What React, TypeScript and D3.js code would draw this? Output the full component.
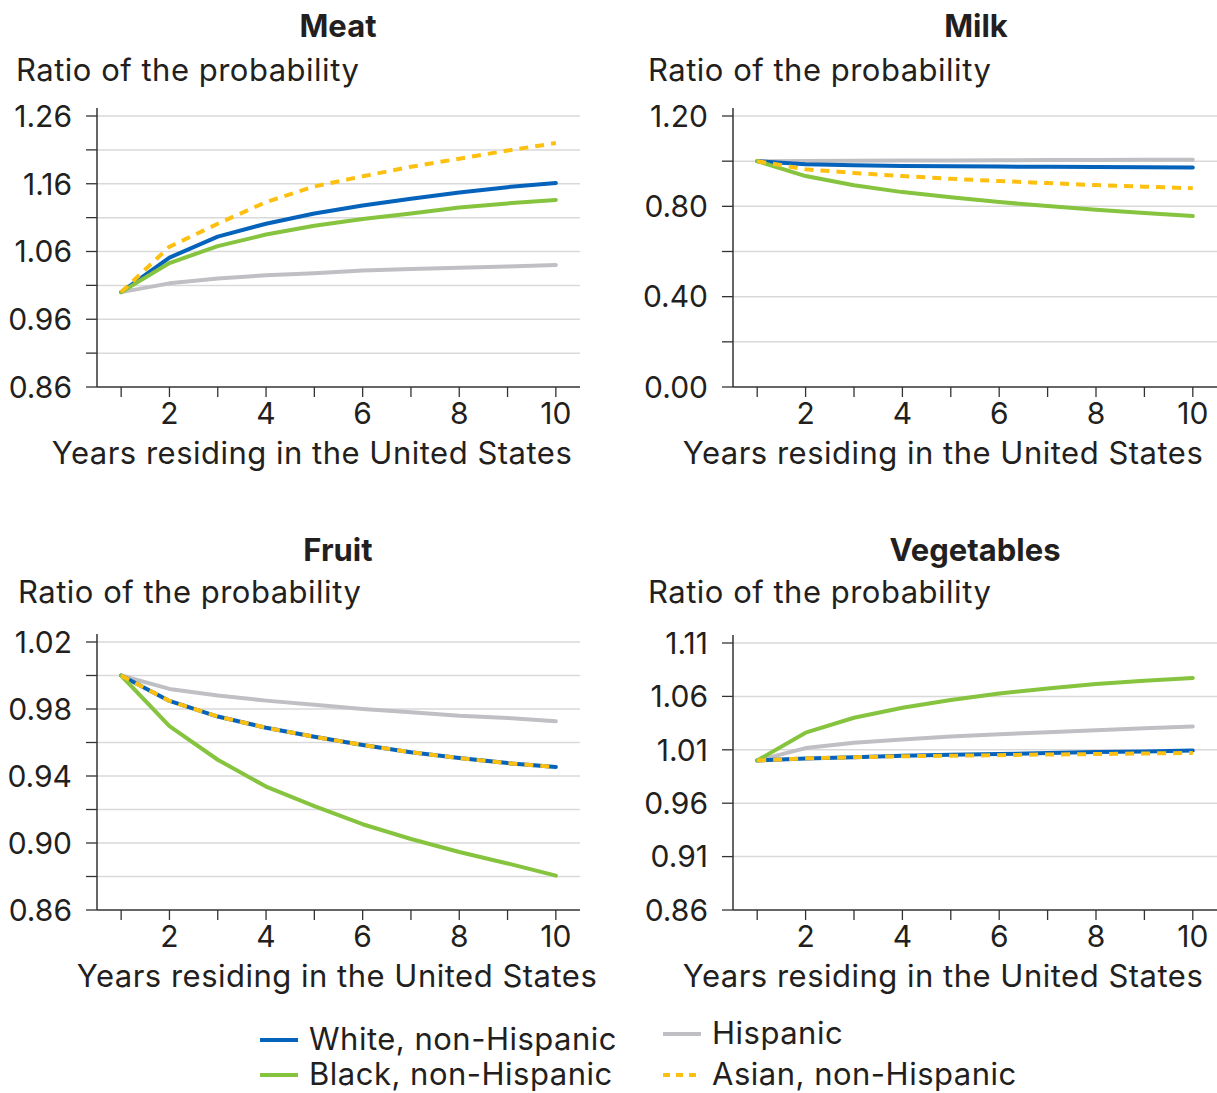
import React from "react";
import * as d3 from "d3";

const years = [1, 2, 3, 4, 5, 6, 7, 8, 9, 10];

const seriesNames = ["Hispanic", "White, non-Hispanic", "Black, non-Hispanic", "Asian, non-Hispanic"];

// Meat
const meatHispanic = [1.0, 1.013, 1.02, 1.025, 1.028, 1.032, 1.034, 1.036, 1.038, 1.04];
const meatWhite = [1.0, 1.051, 1.082, 1.101, 1.116, 1.128, 1.138, 1.147, 1.155, 1.161];
const meatBlack = [1.0, 1.043, 1.068, 1.085, 1.098, 1.108, 1.116, 1.125, 1.131, 1.136];
const meatAsian = [1.0, 1.067, 1.101, 1.133, 1.156, 1.171, 1.185, 1.197, 1.209, 1.22];

// Milk
const milkHispanic = [1.0, 1.001, 1.002, 1.003, 1.003, 1.004, 1.005, 1.005, 1.006, 1.006];
const milkWhite = [1.0, 0.986, 0.982, 0.979, 0.977, 0.976, 0.975, 0.974, 0.973, 0.972];
const milkBlack = [1.0, 0.934, 0.893, 0.863, 0.84, 0.819, 0.801, 0.785, 0.77, 0.757];
const milkAsian = [1.0, 0.964, 0.948, 0.934, 0.922, 0.912, 0.903, 0.894, 0.887, 0.88];

// Fruit
const fruitHispanic = [1.0, 0.992, 0.988, 0.985, 0.9825, 0.98, 0.978, 0.976, 0.9747, 0.9727];
const fruitWhite = [1.0, 0.9848, 0.9755, 0.9688, 0.9634, 0.9585, 0.9542, 0.9507, 0.9477, 0.9454];
const fruitBlack = [1.0, 0.9698, 0.9497, 0.9337, 0.922, 0.9112, 0.9024, 0.8946, 0.8878, 0.8805];
const fruitAsian = [1.0, 0.9848, 0.9755, 0.9688, 0.9634, 0.9585, 0.9542, 0.9507, 0.9477, 0.9454];

// Vegetables
const vegHispanic = [1.0, 1.0116, 1.0166, 1.0197, 1.0225, 1.0246, 1.0265, 1.0284, 1.0302, 1.0318];
const vegWhite = [1.0, 1.0019, 1.003, 1.0044, 1.0053, 1.006, 1.007, 1.008, 1.0085, 1.0093];
const vegBlack = [1.0, 1.026, 1.04, 1.0494, 1.0566, 1.0628, 1.0675, 1.0716, 1.0747, 1.0772];
const vegAsian = [1.0, 1.002, 1.003, 1.004, 1.0044, 1.005, 1.0056, 1.006, 1.0066, 1.007];

const meatTicks = [0.86, 0.96, 1.06, 1.16, 1.26];
const milkTicks = [0.0, 0.4, 0.8, 1.2];
const fruitTicks = [0.86, 0.9, 0.94, 0.98, 1.02];
const vegTicks = [0.86, 0.91, 0.96, 1.01, 1.06, 1.11];
const xTickLabels = [2, 4, 6, 8, 10];

const COLORS: Record<string, string> = {
  "Hispanic": "#c0c0c4",
  "White, non-Hispanic": "#0563bb",
  "Black, non-Hispanic": "#86c43f",
  "Asian, non-Hispanic": "#fdc010",
};

const FONT = "Inter, Roboto, 'Liberation Sans', sans-serif";
const TEXT = "#231f20";
const FS = 31;
const LS = 0.5;

type PanelDef = {
  title: string;
  series: number[][];
  domain: [number, number];
  labelTicks: number[];
  gridStep: number;
  left: number;
  right: number;
  top: number;
  bottom: number;
  titleX: number;
  titleY: number;
  ratioX: number;
  ratioY: number;
  axisTitleX: number;
};

const panels: PanelDef[] = [
  {
    title: "Meat",
    series: [meatHispanic, meatWhite, meatBlack, meatAsian],
    domain: [0.86, 1.26], labelTicks: meatTicks, gridStep: 0.05,
    left: 97, right: 580, top: 116, bottom: 387,
    titleX: 338, titleY: 37, ratioX: 16, ratioY: 81, axisTitleX: 312,
  },
  {
    title: "Milk",
    series: [milkHispanic, milkWhite, milkBlack, milkAsian],
    domain: [0, 1.2], labelTicks: milkTicks, gridStep: 0.2,
    left: 733, right: 1217, top: 116, bottom: 387,
    titleX: 976, titleY: 37, ratioX: 648, ratioY: 81, axisTitleX: 943,
  },
  {
    title: "Fruit",
    series: [fruitHispanic, fruitWhite, fruitBlack, fruitAsian],
    domain: [0.86, 1.02], labelTicks: fruitTicks, gridStep: 0.02,
    left: 97, right: 580, top: 642, bottom: 910,
    titleX: 338, titleY: 561, ratioX: 18, ratioY: 603, axisTitleX: 337,
  },
  {
    title: "Vegetables",
    series: [vegHispanic, vegWhite, vegBlack, vegAsian],
    domain: [0.86, 1.11], labelTicks: vegTicks, gridStep: 0.05,
    left: 733, right: 1217, top: 643, bottom: 910,
    titleX: 975, titleY: 561, ratioX: 648, ratioY: 603, axisTitleX: 943,
  },
];

function Panel({ p }: { p: PanelDef }) {
  const x = d3.scaleLinear().domain([0.5, 10.5]).range([p.left, p.right]);
  const y = d3.scaleLinear().domain(p.domain).range([p.bottom, p.top]);
  const nGrid = Math.round((p.domain[1] - p.domain[0]) / p.gridStep);
  const grid = d3.range(0, nGrid + 1).map((i) => p.domain[0] + i * p.gridStep);
  const line = d3
    .line<number>()
    .x((_, i) => x(years[i]))
    .y((d) => y(d));
  return (
    <g>
      <text x={p.titleX} y={p.titleY} textAnchor="middle" fontWeight="bold" fontSize={FS} fill={TEXT}>
        {p.title}
      </text>
      <text x={p.ratioX} y={p.ratioY} fontSize={FS} letterSpacing={LS} fill={TEXT}>
        Ratio of the probability
      </text>
      {grid.map((g, i) =>
        i === 0 ? null : (
          <line key={"g" + i} x1={p.left} x2={p.right} y1={y(g)} y2={y(g)} stroke="#d9d9d9" strokeWidth={1.5} />
        )
      )}
      {grid.map((g, i) => (
        <line key={"t" + i} x1={p.left - 11} x2={p.left} y1={y(g)} y2={y(g)} stroke="#333" strokeWidth={1.3} />
      ))}
      {p.labelTicks.map((t) => (
        <text key={"l" + t} x={p.left - 25} y={y(t)} dy="0.36em" textAnchor="end" fontSize={30} fill={TEXT}>
          {t.toFixed(2)}
        </text>
      ))}
      <line x1={p.left} x2={p.left} y1={p.top - 8} y2={p.bottom} stroke="#333" strokeWidth={1.5} />
      <line x1={p.left} x2={p.right} y1={p.bottom} y2={p.bottom} stroke="#333" strokeWidth={1.5} />
      {years.map((yr) => (
        <line key={"xt" + yr} x1={x(yr)} x2={x(yr)} y1={p.bottom} y2={p.bottom + 10} stroke="#333" strokeWidth={1.3} />
      ))}
      {xTickLabels.map((t) => (
        <text key={"xl" + t} x={x(t)} y={p.bottom + 37} textAnchor="middle" fontSize={30} fill={TEXT}>
          {t}
        </text>
      ))}
      <text x={p.axisTitleX} y={p.bottom + 77} textAnchor="middle" fontSize={FS} letterSpacing={LS} fill={TEXT}>
        Years residing in the United States
      </text>
      {p.series.map((s, i) => {
        const name = seriesNames[i];
        const dashed = name === "Asian, non-Hispanic";
        return (
          <path
            key={name}
            d={line(s) || ""}
            fill="none"
            stroke={COLORS[name]}
            strokeWidth={4}
            strokeLinecap={dashed ? "butt" : "round"}
            strokeLinejoin="round"
            strokeDasharray={dashed ? "9,7" : undefined}
          />
        );
      })}
    </g>
  );
}

const legendItems = [
  { name: "White, non-Hispanic", x: 260, y: 1040 },
  { name: "Black, non-Hispanic", x: 260, y: 1075 },
  { name: "Hispanic", x: 663, y: 1034 },
  { name: "Asian, non-Hispanic", x: 663, y: 1075 },
];

export default function App() {
  return (
    <svg
      width={1217}
      height={1093}
      style={{ position: "absolute", left: 0, top: 0, fontFamily: FONT }}
    >
      <rect width={1217} height={1093} fill="#ffffff" />
      {panels.map((p) => (
        <Panel key={p.title} p={p} />
      ))}
      {legendItems.map((it) => {
        const dashed = it.name === "Asian, non-Hispanic";
        return (
          <g key={it.name}>
            <line
              x1={it.x}
              x2={it.x + 38}
              y1={it.y}
              y2={it.y}
              stroke={COLORS[it.name]}
              strokeWidth={4}
              strokeDasharray={dashed ? "7,6" : undefined}
            />
            <text x={it.x + 49} y={it.y} dy="0.33em" fontSize={FS} letterSpacing={LS} fill={TEXT}>
              {it.name}
            </text>
          </g>
        );
      })}
    </svg>
  );
}
